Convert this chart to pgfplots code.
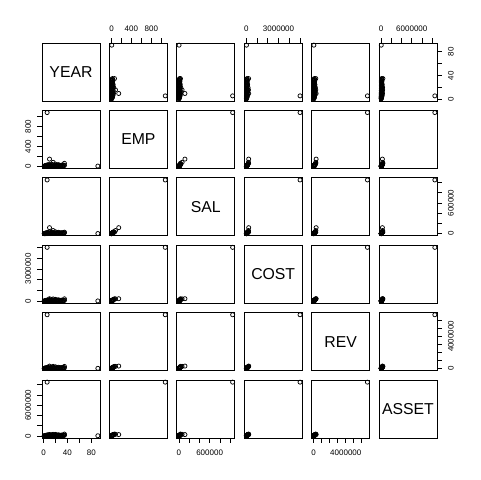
\documentclass[border=0pt]{standalone}
\usepackage{fontspec}
\setmainfont{Liberation Sans}
\usepackage{pgfplots}
\usepackage{pgfplotstable}
\pgfplotsset{compat=1.18}
\usepgfplotslibrary{groupplots}
\usetikzlibrary{calc}

\pgfplotstableread{
YEAR EMP SAL COST REV ASSET
1 3 2100 9000 11000 15000
2 8 6500 30000 38000 52000
2 1 900 4000 5000 6000
3 12 9800 41000 52000 70000
3 4 3200 15000 18000 24000
4 20 15500 70000 90000 120000
4 2 1600 7000 9000 11000
5 6 4800 22000 27000 35000
5 15 12000 52000 66000 95000
6 25 21000 88000 110000 160000
6 3 2400 11000 14000 18000
7 10 8200 36000 45000 62000
7 30 24000 105000 135000 190000
8 5 4100 18000 23000 30000
8 18 14500 63000 80000 115000
9 9 7300 32000 40000 56000
10 40 33000 140000 180000 260000
10 7 5600 25000 31000 44000
11 14 11300 49000 62000 88000
12 22 18000 77000 98000 140000
12 4 3300 14000 18000 25000
13 11 9000 39000 49000 70000
14 28 23000 98000 125000 180000
15 6 4900 21000 27000 38000
15 35 29000 125000 160000 230000
17 13 10500 46000 58000 82000
18 8 6400 28000 36000 50000
19 19 15500 67000 85000 120000
20 45 37000 160000 205000 290000
21 10 8100 35000 45000 64000
22 16 13000 56000 72000 100000
23 26 21000 92000 118000 165000
24 7 5700 25000 32000 45000
25 33 27000 118000 150000 210000
26 12 9700 42000 54000 77000
27 21 17000 74000 95000 135000
28 9 7300 32000 41000 58000
29 17 13800 60000 77000 108000
30 24 19500 85000 108000 152000
31 5 4000 18000 23000 32000
32 14 11400 50000 63000 90000
33 27 22000 96000 122000 172000
34 11 9000 39000 50000 71000
35 60 30000 210000 260000 350000
35 20 16000 70000 90000 128000
16 80 62000 200000 260000 300000
10 145 118000 220000 300000 250000
91 5 3500 15000 19000 25000
6 1080 1050000 5000000 6700000 10500000
}\data

\pgfplotsset{
  vxYEAR/.style={xmin=-2.6,xmax=94.6}, vyYEAR/.style={ymin=-2.6,ymax=94.6},
  vxEMP/.style={xmin=-42.2,xmax=1123.2}, vyEMP/.style={ymin=-42.2,ymax=1123.2},
  vxSAL/.style={xmin=-41000,xmax=1092000}, vySAL/.style={ymin=-41000,ymax=1092000},
  vxCOST/.style={xmin=-198000,xmax=5200000}, vyCOST/.style={ymin=-198000,ymax=5200000},
  vxREV/.style={xmin=-265000,xmax=6968000}, vyREV/.style={ymin=-265000,ymax=6968000},
  vxASSET/.style={xmin=-417000,xmax=10920000}, vyASSET/.style={ymin=-417000,ymax=10920000},
  tkYEAR/.style={#1tick={0,20,40,60,80}, #1ticklabels={\mbox{0},,\mbox{40},,\mbox{80}}},
  tkEMP/.style={#1tick={0,200,400,600,800,1000}, #1ticklabels={\mbox{0},,\mbox{400},,\mbox{800},}},
  tkSAL/.style={#1tick={0,200000,400000,600000,800000,1000000}, #1ticklabels={\mbox{0},,,\mbox{600000},,}},
  tkCOST/.style={#1tick={0,1000000,2000000,3000000,4000000,5000000}, #1ticklabels={\mbox{0},,,\mbox{3000000},,}},
  tkREV/.style={#1tick={0,1000000,2000000,3000000,4000000,5000000,6000000}, #1ticklabels={\mbox{0},,,,\mbox{4000000},,}},
  tkASSET/.style={#1tick={0,2000000,4000000,6000000,8000000,10000000}, #1ticklabels={\mbox{0},,,\mbox{6000000},,}},
  top/.style={tk#1=x, xtick pos=upper, xticklabel pos=upper,
     xticklabel style={anchor=south}, xticklabel shift=4.6pt},
  bot/.style={tk#1=x, xtick pos=lower, xticklabel pos=lower,
     xticklabel style={anchor=north}, xticklabel shift=5.2pt},
  lft/.style={tk#1=y, ytick pos=lower, yticklabel pos=lower,
     yticklabel style={xshift=-4.6pt, rotate=90, anchor=south}},
  rgt/.style={tk#1=y, ytick pos=upper, yticklabel pos=upper,
     yticklabel style={xshift=4.6pt, rotate=90, anchor=north}},
}

\newcommand{\cell}[3]{\nextgroupplot[vx#2,vy#1,#3]
  \addplot[only marks, mark=o, mark size=1.55pt, mark options={line width=0.55pt}] table[x=#2,y=#1]{\data};}
\newcommand{\diag}[1]{\nextgroupplot[xmin=0,xmax=1,ymin=0,ymax=1]
  \node at (axis cs:0.5,0.5) {\fontsize{11.85}{14}\selectfont #1};}

\begin{document}
\begin{tikzpicture}
\begin{groupplot}[
  group style={group size=6 by 6, horizontal sep=7.05pt, vertical sep=7.05pt},
  width=43.5pt, height=43.5pt, scale only axis,
  xtick=\empty, ytick=\empty, scaled ticks=false,
  axis line style={black, line width=0.6pt},
  tick align=outside, major tick length=3.4pt,
  every tick/.style={black, line width=0.5pt},
  tick label style={font=\fontsize{6}{7}\selectfont, inner sep=0pt},
  clip=false,
]
% row 1
\diag{YEAR}
\cell{YEAR}{EMP}{top=EMP}
\cell{YEAR}{SAL}{}
\cell{YEAR}{COST}{top=COST}
\cell{YEAR}{REV}{}
\cell{YEAR}{ASSET}{top=ASSET, rgt=YEAR}
% row 2
\cell{EMP}{YEAR}{lft=EMP}
\diag{EMP}
\cell{EMP}{SAL}{}
\cell{EMP}{COST}{}
\cell{EMP}{REV}{}
\cell{EMP}{ASSET}{}
% row 3
\cell{SAL}{YEAR}{}
\cell{SAL}{EMP}{}
\diag{SAL}
\cell{SAL}{COST}{}
\cell{SAL}{REV}{}
\cell{SAL}{ASSET}{rgt=SAL}
% row 4
\cell{COST}{YEAR}{lft=COST}
\cell{COST}{EMP}{}
\cell{COST}{SAL}{}
\diag{COST}
\cell{COST}{REV}{}
\cell{COST}{ASSET}{}
% row 5
\cell{REV}{YEAR}{}
\cell{REV}{EMP}{}
\cell{REV}{SAL}{}
\cell{REV}{COST}{}
\diag{REV}
\cell{REV}{ASSET}{rgt=REV}
% row 6
\cell{ASSET}{YEAR}{lft=ASSET, bot=YEAR}
\cell{ASSET}{EMP}{}
\cell{ASSET}{SAL}{bot=SAL}
\cell{ASSET}{COST}{}
\cell{ASSET}{REV}{bot=REV}
\diag{ASSET}
\end{groupplot}
\path ($(group c1r1.north west)+(-31.5pt,32.25pt)$) rectangle ++(360pt,-360pt);
\end{tikzpicture}
\end{document}
